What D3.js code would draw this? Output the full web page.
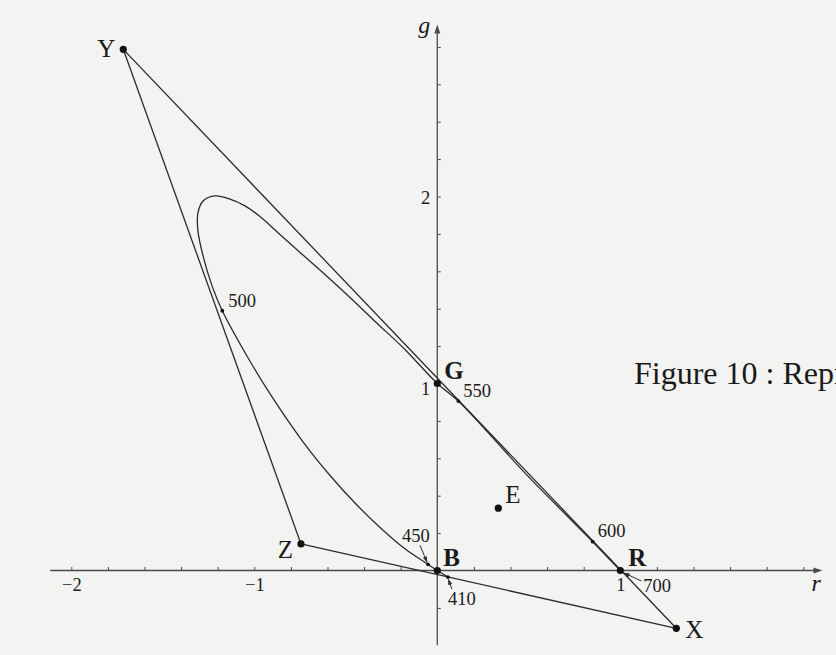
<!DOCTYPE html>
<html>
<head>
<meta charset="utf-8">
<script src="https://cdn.jsdelivr.net/npm/d3@7"></script>
<style>
  html, body { margin: 0; padding: 0; background: #f3f3f2; }
  svg { display: block; }
  text { font-family: "Liberation Serif", "Times New Roman", serif; fill: #1a1a1a; }
</style>
</head>
<body>
<svg id="chart" width="836" height="655"></svg>
<script>
// Spectral locus in (r, g) chromaticity coordinates, from 410 nm to 700 nm
const locusR = [0.058, 0, -0.051, -0.177, -0.313, -0.450, -0.586, -0.739, -0.903, -1.040,
  -1.175, -1.231, -1.280, -1.308, -1.308, -1.280, -1.215, -1.133, -1.051, -0.969,
  -0.860, -0.750, -0.614, -0.477, -0.340, -0.177, 0, 0.115, 0.49, 0.849, 1];
const locusG = [-0.035, 0, 0.033, 0.116, 0.230, 0.361, 0.508, 0.695, 0.928, 1.147,
  1.389, 1.522, 1.682, 1.816, 1.912, 1.976, 2.003, 1.986, 1.950, 1.893,
  1.797, 1.701, 1.583, 1.460, 1.332, 1.182, 1.0, 0.906, 0.51, 0.154, 0];

// Marked wavelengths (nm) on the locus
const waveNm = [410, 450, 500, 550, 600, 700];
const waveR = [0.058, -0.051, -1.175, 0.115, 0.849, 1];
const waveG = [-0.035, 0.033, 1.389, 0.906, 0.154, 0];

// Named points: imaginary primaries X, Y, Z, real primaries R, G, B, white E
const pointNames = ["X", "Y", "Z", "R", "G", "B", "E"];
const pointR = [1.306, -1.716, -0.745, 1, 0, 0, 1 / 3];
const pointG = [-0.309, 2.787, 0.142, 0, 1, 0, 1 / 3];

// Axis ticks
const rTickLabels = [-2, -1, 1];
const gTickLabels = [1, 2];
const rMinorTicks = d3.range(-10, 11).filter(k => k !== 0).map(k => k / 5);
const gMinorTicks = d3.range(-1, 15).filter(k => k !== 0).map(k => k / 5);

const caption = "Figure 10 : Représentation";

// ---------------------------------------------------------------
const svg = d3.select("#chart");
const x = d3.scaleLinear().domain([0, 1]).range([437.3, 620.3]);
const y = d3.scaleLinear().domain([0, 1]).range([570.5, 383.5]);

const ink = "#2b2b2b";
const axisInk = "#4a4a4a";

// arrowhead for the small pointer arrows
const defs = svg.append("defs");
defs.append("marker")
  .attr("id", "tip").attr("viewBox", "0 0 10 10")
  .attr("refX", 9).attr("refY", 5)
  .attr("markerWidth", 6).attr("markerHeight", 6)
  .attr("orient", "auto-start-reverse")
  .append("path").attr("d", "M0,1.5 L10,5 L0,8.5 Z").attr("fill", ink);

// ---- axes ----
const axes = svg.append("g");
const rMin = -2.115, rMax = 2.105, gMin = -0.4, gMax = 2.92;

axes.append("line")
  .attr("x1", x(rMin)).attr("x2", x(rMax) - 4)
  .attr("y1", y(0)).attr("y2", y(0))
  .attr("stroke", axisInk).attr("stroke-width", 1.3);
axes.append("path")
  .attr("d", `M${x(rMax)},${y(0)} l-9,-3 l0,6 Z`)
  .attr("fill", axisInk);

axes.append("line")
  .attr("x1", x(0)).attr("x2", x(0))
  .attr("y1", y(gMin)).attr("y2", y(gMax) + 4)
  .attr("stroke", axisInk).attr("stroke-width", 1.3);
axes.append("path")
  .attr("d", `M${x(0)},${y(gMax)} l-3,9 l6,0 Z`)
  .attr("fill", axisInk);

// minor ticks
const rTickAxis = axes.append("g")
  .attr("transform", `translate(0,${y(0)})`)
  .call(d3.axisBottom(x).tickValues(rMinorTicks).tickSize(-3.5).tickFormat(""));
rTickAxis.select(".domain").remove();
rTickAxis.selectAll("line").attr("stroke", axisInk).attr("stroke-width", 1);

const gTickAxis = axes.append("g")
  .attr("transform", `translate(${x(0)},0)`)
  .call(d3.axisLeft(y).tickValues(gMinorTicks).tickSize(-3.5).tickFormat(""));
gTickAxis.select(".domain").remove();
gTickAxis.selectAll("line").attr("stroke", axisInk).attr("stroke-width", 1);

// tick labels
const minus = d => (d < 0 ? "\u2212" + Math.abs(d) : String(d));
const rLab = axes.append("g")
  .attr("transform", `translate(0,${y(0)})`)
  .call(d3.axisBottom(x).tickValues(rTickLabels).tickSize(0).tickPadding(7).tickFormat(minus));
rLab.select(".domain").remove();
rLab.selectAll("text").attr("font-size", 18.5).attr("font-family", null).attr("fill", "#1a1a1a");

const gLab = axes.append("g")
  .attr("transform", `translate(${x(0)},0)`)
  .call(d3.axisLeft(y).tickValues(gTickLabels).tickSize(0).tickPadding(7).tickFormat(minus));
gLab.select(".domain").remove();
gLab.selectAll("text").attr("font-size", 18.5).attr("font-family", null)
  .attr("fill", "#1a1a1a").attr("dy", d => (d === 1 ? "0.62em" : "0.4em"));

// axis names
axes.append("text").attr("x", x(0) - 19).attr("y", y(gMax) + 9)
  .attr("font-size", 24).attr("font-style", "italic").text("g");
axes.append("text").attr("x", x(rMax) - 11).attr("y", y(0) + 20)
  .attr("font-size", 24).attr("font-style", "italic").text("r");

// ---- triangle X Y Z ----
const pts = pointNames.map((n, i) => ({ name: n, r: pointR[i], g: pointG[i] }));
const byName = Object.fromEntries(pts.map(p => [p.name, p]));
const tri = ["X", "Y", "Z"].map(n => byName[n]);
svg.append("path")
  .datum(tri)
  .attr("d", d3.line().x(p => x(p.r)).y(p => y(p.g)).curve(d3.curveLinearClosed))
  .attr("fill", "none").attr("stroke", ink).attr("stroke-width", 1.3)
  .attr("stroke-linejoin", "round");

// ---- spectral locus ----
const locus = locusR.map((r, i) => ({ r, g: locusG[i] }));
svg.append("path")
  .datum(locus)
  .attr("d", d3.line().x(p => x(p.r)).y(p => y(p.g)).curve(d3.curveCatmullRom.alpha(0.5)))
  .attr("fill", "none").attr("stroke", ink).attr("stroke-width", 1.3);

// ---- wavelength marks ----
const waves = waveNm.map((nm, i) => ({ nm, r: waveR[i], g: waveG[i] }));
// label placement relative to the mark: [dx, dy] of text start/baseline, optional pointer
const waveStyle = {
  410: { dx: 0, dy: 28, arrow: [[4, 12], [0.5, 2.5]] },
  450: { dx: -26, dy: -22, arrow: [[-8, -19], [-1, -2.5]] },
  500: { dx: 6, dy: -4 },
  550: { dx: 5, dy: -4 },
  600: { dx: 5, dy: -5 },
  700: { dx: 23, dy: 21.5, arrow: [[21, 10.5], [4, 2.5]] }
};
const wg = svg.append("g");
waves.filter(w => w.nm !== 700).forEach(w => {
  wg.append("circle").attr("cx", x(w.r)).attr("cy", y(w.g)).attr("r", 1.9).attr("fill", "#111");
});
waves.forEach(w => {
  const s = waveStyle[w.nm];
  const cx = x(w.r), cy = y(w.g);
  wg.append("text").attr("x", cx + s.dx).attr("y", cy + s.dy)
    .attr("font-size", 18.5).text(w.nm);
  if (s.arrow) {
    wg.append("line")
      .attr("x1", cx + s.arrow[0][0]).attr("y1", cy + s.arrow[0][1])
      .attr("x2", cx + s.arrow[1][0]).attr("y2", cy + s.arrow[1][1])
      .attr("stroke", ink).attr("stroke-width", 1)
      .attr("marker-end", "url(#tip)");
  }
});

// ---- named points ----
const pointStyle = {
  X: { dx: 9, dy: 10, anchor: "start", bold: false },
  Y: { dx: -8, dy: 8, anchor: "end", bold: false },
  Z: { dx: -8, dy: 14, anchor: "end", bold: false },
  R: { dx: 8, dy: -5, anchor: "start", bold: true },
  G: { dx: 7, dy: -5, anchor: "start", bold: true },
  B: { dx: 6, dy: -5, anchor: "start", bold: true },
  E: { dx: 7, dy: -5, anchor: "start", bold: false }
};
const pg = svg.append("g");
pts.forEach(p => {
  const s = pointStyle[p.name];
  pg.append("circle").attr("cx", x(p.r)).attr("cy", y(p.g)).attr("r", 3.6).attr("fill", "#111");
  pg.append("text").attr("x", x(p.r) + s.dx).attr("y", y(p.g) + s.dy)
    .attr("text-anchor", s.anchor)
    .attr("font-size", 25)
    .attr("font-weight", s.bold ? "bold" : "normal")
    .text(p.name);
});

// ---- caption ----
svg.append("text").attr("x", 634).attr("y", 384)
  .attr("font-size", 32).attr("fill", "#111").text(caption);
</script>
</body>
</html>
